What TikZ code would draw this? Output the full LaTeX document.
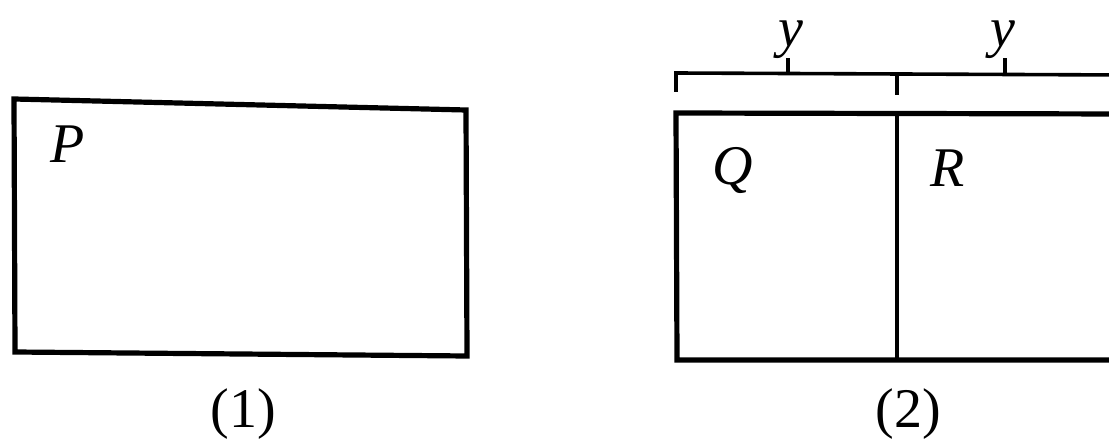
\documentclass[tikz,border=0pt]{standalone}
\usepackage{fontspec}
\setmainfont{Liberation Serif}
\begin{document}
\begin{tikzpicture}[x=0.5pt,y=-0.5pt,
  frame/.style={line width=2.6pt, line join=miter},
  thinline/.style={line width=1.8pt},
  lbl/.style={font=\fontsize{28}{30}\selectfont\itshape, inner sep=0pt, anchor=base west},
  figcaption/.style={font=\fontsize{28}{30}\selectfont, inner sep=0pt, anchor=base}]
\useasboundingbox (0,0) rectangle (1109,443);
% figure 1
\coordinate (a1) at (14,99);
\coordinate (a2) at (466,110);
\coordinate (a3) at (467,356);
\coordinate (a4) at (15,352);
\draw[frame] (a1) -- (a2) -- (a3) -- (a4) -- cycle;
\node[lbl] (P) at (50,163) {P};
\node[figcaption] (c1) at (243,428) {(1)};
% figure 2
\coordinate (b1) at (1125,114);
\coordinate (b2) at (676,113);
\coordinate (b3) at (677,360);
\coordinate (b4) at (1125,360);
\draw[frame] (b1) -- (b2) -- (b3) -- (b4);
\coordinate (d1) at (897,115);
\coordinate (d2) at (897,360);
\draw[thinline] (d1) -- (d2);
\node[lbl] (Q) at (712,185) {Q};
\node[lbl] (R) at (930,187) {R};
\node[figcaption] (c2) at (908,428) {(2)};
% brace
\coordinate (e1) at (676,92);
\coordinate (e2) at (676,73);
\coordinate (e3) at (1125,75);
\draw[thinline] (e1) -- (e2) -- (e3);
\coordinate (m1) at (897,73);
\coordinate (m2) at (897,95);
\draw[thinline] (m1) -- (m2);
\coordinate (t1) at (788,73);
\coordinate (t2) at (788,58);
\draw[thinline] (t1) -- (t2);
\coordinate (u1) at (1005,74);
\coordinate (u2) at (1005,58);
\draw[thinline] (u1) -- (u2);
\node[lbl, anchor=base] (y1) at (791,47) {y};
\node[lbl, anchor=base] (y2) at (1003,47) {y};
\end{tikzpicture}
\end{document}
